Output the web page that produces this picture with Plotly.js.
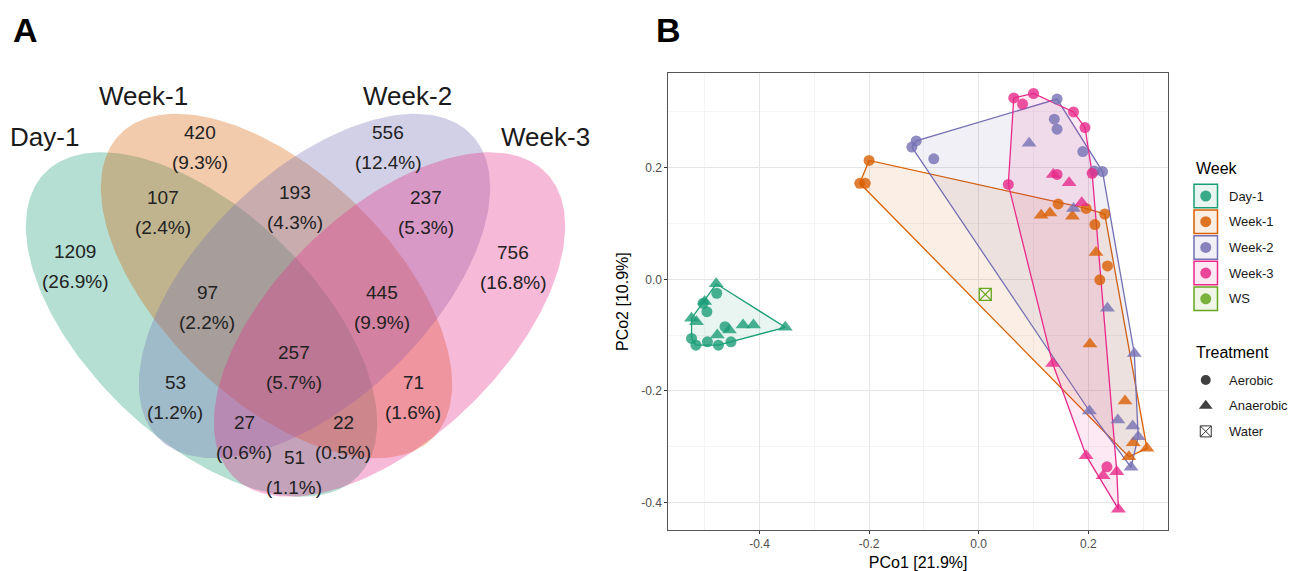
<!DOCTYPE html>
<html><head><meta charset="utf-8">
<script src="https://cdn.plot.ly/plotly-3.0.1.min.js"></script>
<style>html,body{margin:0;padding:0;background:#fff}#chart{width:1300px;height:571px}</style>
</head><body><div id="chart"></div>
<script>
// ================= DATA =================
// Panel A: Venn diagram
const vennSets = ['Day-1', 'Week-1', 'Week-2', 'Week-3'];
const vennRegions = ['Day-1', 'Week-1', 'Week-2', 'Week-3',
  'Day-1&Week-1', 'Week-1&Week-2', 'Week-2&Week-3',
  'Day-1&Week-1&Week-2', 'Week-1&Week-2&Week-3', 'All',
  'Day-1&Week-2', 'Week-1&Week-3', 'Day-1&Week-2&Week-3', 'Day-1&Week-1&Week-3', 'Day-1&Week-3'];
const vennCounts = [1209, 420, 556, 756, 107, 193, 237, 97, 445, 257, 53, 71, 27, 22, 51];

// Panel B: PCoA scores
const weeks = ['Day-1', 'Week-1', 'Week-2', 'Week-3', 'WS'];
const treatments = ['Aerobic', 'Anaerobic', 'Water'];
const pc1_Day1_Aerobic   = [-0.478, -0.503, -0.496, -0.463, -0.524, -0.516, -0.495, -0.475, -0.452];
const pc2_Day1_Aerobic   = [-0.025, -0.043, -0.058, -0.085, -0.106, -0.118, -0.112, -0.118, -0.112];
const pc1_Day1_Anaerobic = [-0.479, -0.500, -0.524, -0.515, -0.430, -0.411, -0.353, -0.477, -0.455];
const pc2_Day1_Anaerobic = [-0.008, -0.040, -0.070, -0.076, -0.082, -0.082, -0.086, -0.100, -0.091];
const pc1_Week1_Aerobic   = [-0.200, -0.217, -0.207, 0.145, 0.196, 0.230, 0.212, 0.235, 0.221];
const pc2_Week1_Aerobic   = [0.213, 0.172, 0.172, 0.135, 0.127, 0.117, 0.098, 0.024, -0.001];
const pc1_Week1_Anaerobic = [0.114, 0.130, 0.171, 0.214, 0.203, 0.267, 0.282, 0.307, 0.274];
const pc2_Week1_Anaerobic = [0.115, 0.119, 0.113, 0.048, -0.116, -0.218, -0.293, -0.303, -0.318];
const pc1_Week2_Aerobic   = [-0.122, -0.114, -0.082, 0.143, 0.138, 0.143, 0.190, 0.211, 0.226];
const pc2_Week2_Aerobic   = [0.237, 0.248, 0.216, 0.323, 0.287, 0.269, 0.229, 0.194, 0.193];
const pc1_Week2_Anaerobic = [0.092, 0.173, 0.235, 0.284, 0.202, 0.254, 0.281, 0.291, 0.278];
const pc2_Week2_Anaerobic = [0.244, 0.127, -0.052, -0.133, -0.236, -0.252, -0.263, -0.282, -0.337];
const pc1_Week3_Aerobic   = [0.064, 0.080, 0.100, 0.173, 0.194, 0.207, 0.054, 0.143, 0.234];
const pc2_Week3_Aerobic   = [0.325, 0.314, 0.333, 0.300, 0.272, 0.190, 0.170, 0.188, -0.336];
const pc1_Week3_Anaerobic = [0.136, 0.165, 0.188, 0.135, 0.196, 0.227, 0.252, 0.255];
const pc2_Week3_Anaerobic = [0.188, 0.173, 0.137, -0.151, -0.316, -0.352, -0.345, -0.412];
const pc1_WS_Water = [0.012];
const pc2_WS_Water = [-0.027];

const xTickVals = [-0.4, -0.2, 0.0, 0.2];
const xTickText = ['-0.4', '-0.2', '0.0', '0.2'];
const yTickVals = [-0.4, -0.2, 0.0, 0.2];
const yTickText = ['-0.4', '-0.2', '0.0', '0.2'];
const xTitle = 'PCo1 [21.9%]';
const yTitle = 'PCo2 [10.9%]';

// ================= STYLE / LAYOUT =================
const W = 1300, H = 571;
const FONT = 'Liberation Sans, Arial, Helvetica, sans-serif';
const weekColors = ['#1B9E77', '#D95F02', '#7570B3', '#E7298A', '#66A61E'];
function rgba(hex, a) {
  const n = parseInt(hex.slice(1), 16);
  return 'rgba(' + ((n >> 16) & 255) + ',' + ((n >> 8) & 255) + ',' + (n & 255) + ',' + a + ')';
}
// Venn geometry (pixel space of panel A)
const vennGeom = [
  {cx: 201.5, cy: 324.5, a: 218, b: 114, ang: 44},
  {cx: 276.5, cy: 286, a: 218, b: 114, ang: 44},
  {cx: 314.5, cy: 286, a: 218, b: 114, ang: 136},
  {cx: 389.5, cy: 324.5, a: 218, b: 114, ang: 136}
];
const vennSetLabelPos = [[44, 137], [143, 96], [407, 96], [545, 137]];
const vennLabelPos = [[75, 251], [200, 132], [388, 132], [513, 252], [163, 197], [295, 192],
  [426, 197], [207, 292], [382, 292], [294, 352], [175, 382], [413, 382], [244, 422], [343, 422], [294, 457]];

const traces = [], shapes = [], annotations = [];

// ---- Venn ellipses ----
vennSets.forEach((s, i) => {
  const g = vennGeom[i], th = g.ang * Math.PI / 180;
  const xs = [], ys = [];
  for (let k = 0; k <= 240; k++) {
    const t = 2 * Math.PI * k / 240;
    xs.push(g.cx + g.a * Math.cos(t) * Math.cos(th) - g.b * Math.sin(t) * Math.sin(th));
    ys.push(g.cy + g.a * Math.cos(t) * Math.sin(th) + g.b * Math.sin(t) * Math.cos(th));
  }
  traces.push({type: 'scatter', mode: 'lines', x: xs, y: ys, xaxis: 'x2', yaxis: 'y2',
    fill: 'toself', fillcolor: rgba(weekColors[i], 0.33), line: {width: 0}, hoverinfo: 'skip', showlegend: false});
  annotations.push({xref: 'x2', yref: 'y2', x: vennSetLabelPos[i][0], y: vennSetLabelPos[i][1], text: s,
    showarrow: false, font: {family: FONT, size: 26, color: '#1a1a1a'}});
});
const vennTotal = vennCounts.reduce((a, b) => a + b, 0);
vennCounts.forEach((c, i) => {
  const p = vennLabelPos[i];
  annotations.push({xref: 'x2', yref: 'y2', x: p[0], y: p[1], text: String(c), showarrow: false,
    font: {family: FONT, size: 19, color: '#222'}});
  annotations.push({xref: 'x2', yref: 'y2', x: p[0], y: p[1] + 30, text: '(' + (100 * c / vennTotal).toFixed(1) + '%)',
    showarrow: false, font: {family: FONT, size: 19, color: '#222'}});
});

// ---- Panel B ----
const groups = [
  {week: 0, tr: 0, x: pc1_Day1_Aerobic, y: pc2_Day1_Aerobic},
  {week: 0, tr: 1, x: pc1_Day1_Anaerobic, y: pc2_Day1_Anaerobic},
  {week: 1, tr: 0, x: pc1_Week1_Aerobic, y: pc2_Week1_Aerobic},
  {week: 1, tr: 1, x: pc1_Week1_Anaerobic, y: pc2_Week1_Anaerobic},
  {week: 2, tr: 0, x: pc1_Week2_Aerobic, y: pc2_Week2_Aerobic},
  {week: 2, tr: 1, x: pc1_Week2_Anaerobic, y: pc2_Week2_Anaerobic},
  {week: 3, tr: 0, x: pc1_Week3_Aerobic, y: pc2_Week3_Aerobic},
  {week: 3, tr: 1, x: pc1_Week3_Anaerobic, y: pc2_Week3_Anaerobic},
  {week: 4, tr: 2, x: pc1_WS_Water, y: pc2_WS_Water}
];
function hull(pts) {
  pts = pts.slice().sort((a, b) => a[0] - b[0] || a[1] - b[1]);
  const cr = (o, a, b) => (a[0] - o[0]) * (b[1] - o[1]) - (a[1] - o[1]) * (b[0] - o[0]);
  const lo = [], up = [];
  for (const p of pts) { while (lo.length >= 2 && cr(lo[lo.length - 2], lo[lo.length - 1], p) <= 0) lo.pop(); lo.push(p); }
  for (let i = pts.length - 1; i >= 0; i--) { const p = pts[i]; while (up.length >= 2 && cr(up[up.length - 2], up[up.length - 1], p) <= 0) up.pop(); up.push(p); }
  up.pop(); lo.pop();
  return lo.concat(up);
}
for (let w = 0; w < 4; w++) {
  const pts = [];
  groups.filter(g => g.week === w).forEach(g => g.x.forEach((v, i) => pts.push([v, g.y[i]])));
  const h = hull(pts); h.push(h[0]);
  traces.push({type: 'scatter', mode: 'lines', x: h.map(p => p[0]), y: h.map(p => p[1]),
    fill: 'toself', fillcolor: rgba(weekColors[w], 0.1), line: {color: weekColors[w], width: 1.3},
    hoverinfo: 'skip', showlegend: false});
}
const symbols = ['circle', 'triangle-up', 'square-x-open'];
const symSizes = [11, 13, 12];
groups.forEach(g => {
  const open = g.tr === 2;
  traces.push({type: 'scatter', mode: 'markers', x: g.x, y: g.y, name: weeks[g.week] + ' ' + treatments[g.tr],
    marker: {symbol: symbols[g.tr], size: symSizes[g.tr], color: open ? weekColors[g.week] : rgba(weekColors[g.week], 0.8),
      line: {width: open ? 1.3 : 0, color: weekColors[g.week]}}, showlegend: false});
});

// ---- Legends (custom, pixel coordinates on x2/y2) ----
const legX = 1194, legBox = 23.5, legStep = 25.7, legY0 = 196;
annotations.push({xref: 'x2', yref: 'y2', x: legX, y: 168, xanchor: 'left', text: 'Week', showarrow: false,
  font: {family: FONT, size: 16, color: '#000'}});
weeks.forEach((wk, i) => {
  const yc = legY0 + i * legStep;
  shapes.push({type: 'rect', xref: 'x2', yref: 'y2', x0: legX, x1: legX + legBox, y0: yc - legBox / 2, y1: yc + legBox / 2,
    line: {color: weekColors[i], width: 1.5}, fillcolor: rgba(weekColors[i], 0.1)});
  traces.push({type: 'scatter', mode: 'markers', x: [legX + legBox / 2], y: [yc], xaxis: 'x2', yaxis: 'y2',
    marker: {symbol: 'circle', size: 11, color: rgba(weekColors[i], 0.85)}, hoverinfo: 'skip', showlegend: false});
  annotations.push({xref: 'x2', yref: 'y2', x: 1227, y: yc, xanchor: 'left', text: wk, showarrow: false,
    font: {family: FONT, size: 13, color: '#1a1a1a'}});
});
annotations.push({xref: 'x2', yref: 'y2', x: legX, y: 352, xanchor: 'left', text: 'Treatment', showarrow: false,
  font: {family: FONT, size: 16, color: '#000'}});
treatments.forEach((t, i) => {
  const yc = 380 + i * legStep;
  traces.push({type: 'scatter', mode: 'markers', x: [legX + legBox / 2], y: [yc], xaxis: 'x2', yaxis: 'y2',
    marker: {symbol: symbols[i], size: [10, 12, 11][i], color: i === 2 ? '#333' : 'rgba(30,30,30,0.85)',
      line: {width: i === 2 ? 1 : 0, color: '#333'}}, hoverinfo: 'skip', showlegend: false});
  annotations.push({xref: 'x2', yref: 'y2', x: 1227, y: yc, xanchor: 'left', text: t, showarrow: false,
    font: {family: FONT, size: 13, color: '#1a1a1a'}});
});

// panel letters
annotations.push({xref: 'x2', yref: 'y2', x: 25, y: 30, text: '<b>A</b>', showarrow: false, font: {family: FONT, size: 34, color: '#000'}});
annotations.push({xref: 'x2', yref: 'y2', x: 668, y: 30, text: '<b>B</b>', showarrow: false, font: {family: FONT, size: 34, color: '#000'}});

const px0 = 668.3, px1 = 1168, py0 = 73.3, py1 = 530;
const layout = {
  width: W, height: H, margin: {l: 0, r: 0, t: 0, b: 0}, paper_bgcolor: '#fff', plot_bgcolor: 'rgba(0,0,0,0)',
  showlegend: false, font: {family: FONT},
  xaxis: {domain: [px0 / W, px1 / W], range: [(px0 - 978.7) / 548, (px1 - 978.7) / 548], anchor: 'y',
    tickmode: 'array', tickvals: xTickVals, ticktext: xTickText, ticks: 'outside', ticklen: 3, tickcolor: '#333',
    tickfont: {family: FONT, size: 12, color: '#4D4D4D'}, showgrid: true, gridcolor: '#E5E5E5', gridwidth: 1,
    minor: {tickmode: 'array', tickvals: [-0.5, -0.3, -0.1, 0.1, 0.3], showgrid: true, gridcolor: '#F0F0F0', gridwidth: 0.7, ticklen: 0},
    zeroline: false, showline: true, mirror: true, linecolor: '#555', linewidth: 1,
    title: {text: xTitle, font: {family: FONT, size: 16, color: '#000'}, standoff: 6}},
  yaxis: {domain: [(H - py1) / H, (H - py0) / H], range: [(279.3 - py1) / 558, (279.3 - py0) / 558], anchor: 'x',
    tickmode: 'array', tickvals: yTickVals, ticktext: yTickText, ticks: 'outside', ticklen: 3, tickcolor: '#333',
    tickfont: {family: FONT, size: 12, color: '#4D4D4D'}, showgrid: true, gridcolor: '#E5E5E5', gridwidth: 1,
    minor: {tickmode: 'array', tickvals: [-0.3, -0.1, 0.1, 0.3], showgrid: true, gridcolor: '#F0F0F0', gridwidth: 0.7, ticklen: 0},
    zeroline: false, showline: true, mirror: true, linecolor: '#555', linewidth: 1,
    title: {text: yTitle, font: {family: FONT, size: 16, color: '#000'}, standoff: 8}},
  xaxis2: {domain: [0, 1], range: [0, W], visible: false, anchor: 'y2', fixedrange: true},
  yaxis2: {domain: [0, 1], range: [H, 0], visible: false, anchor: 'x2', fixedrange: true},
  shapes: shapes, annotations: annotations
};
Plotly.newPlot('chart', traces, layout, {displayModeBar: false, staticPlot: true});
</script></body></html>
